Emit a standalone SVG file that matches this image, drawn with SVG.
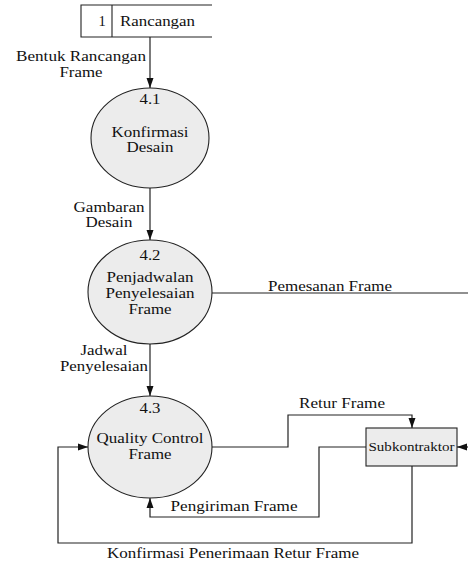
<svg xmlns="http://www.w3.org/2000/svg" width="468" height="561" viewBox="0 0 468 561">
<style>
text{font-family:"Liberation Serif","Times New Roman",serif;font-size:14.5px;fill:#111;}
.c{text-anchor:middle;}
.proc{fill:#ececec;stroke:#222;stroke-width:1.1;}
.flow{fill:none;stroke:#222;stroke-width:1.2;}
.store{fill:none;stroke:#222;stroke-width:1.1;}
.ent{fill:#ececec;stroke:#222;stroke-width:1.1;}
</style>
<defs>
<marker id="arr" markerUnits="userSpaceOnUse" markerWidth="10" markerHeight="10" viewBox="0 0 10 10" refX="10" refY="5" orient="auto">
<path d="M0,1.5 L10,5 L0,8.5 Z" fill="#111"/>
</marker>
</defs>
<rect width="468" height="561" fill="#ffffff"/>
<g id="connectors">
<line class="flow" x1="150" y1="37" x2="150" y2="88" marker-end="url(#arr)"/>
<line class="flow" x1="150" y1="188" x2="150" y2="240" marker-end="url(#arr)"/>
<line class="flow" x1="150" y1="344" x2="150" y2="396" marker-end="url(#arr)"/>
<line class="flow" x1="212" y1="293" x2="468" y2="293"/>
<polyline class="flow" points="212,447 288,447 288,415 412,415 412,428" marker-end="url(#arr)"/>
<polyline class="flow" points="366,447 319,447 319,517 150,517 150,498" marker-end="url(#arr)"/>
<polyline class="flow" points="412,466 412,543 58,543 58,447 88,447" marker-end="url(#arr)"/>
<line class="flow" x1="468" y1="447" x2="457" y2="447" marker-end="url(#arr)"/>
<text class="c" x="81" y="61" textLength="130" lengthAdjust="spacingAndGlyphs">Bentuk Rancangan</text>
<text class="c" x="81" y="77" textLength="43" lengthAdjust="spacingAndGlyphs">Frame</text>
<text class="c" x="109" y="212" textLength="71" lengthAdjust="spacingAndGlyphs">Gambaran</text>
<text class="c" x="109" y="227" textLength="47" lengthAdjust="spacingAndGlyphs">Desain</text>
<text class="c" x="104" y="355" textLength="47" lengthAdjust="spacingAndGlyphs">Jadwal</text>
<text class="c" x="104" y="371" textLength="88" lengthAdjust="spacingAndGlyphs">Penyelesaian</text>
<text class="c" x="330" y="291" textLength="124" lengthAdjust="spacingAndGlyphs">Pemesanan Frame</text>
<text class="c" x="342" y="408" textLength="86" lengthAdjust="spacingAndGlyphs">Retur Frame</text>
<text class="c" x="234" y="511" textLength="127" lengthAdjust="spacingAndGlyphs">Pengiriman Frame</text>
<text class="c" x="233" y="558" textLength="252" lengthAdjust="spacingAndGlyphs">Konfirmasi Penerimaan Retur Frame</text>
</g>
<g id="store-1">
<path class="store" d="M212,5 L81,5 L81,37 L212,37 M112,5 L112,37"/>
<text class="c" x="102" y="26">1</text>
<text x="120" y="26" textLength="75" lengthAdjust="spacingAndGlyphs">Rancangan</text>
</g>
<g id="proc-4-1">
<ellipse class="proc" cx="150" cy="138" rx="59" ry="50"/>
<text class="c" x="150" y="104" textLength="21" lengthAdjust="spacingAndGlyphs">4.1</text>
<text class="c" x="150" y="137" textLength="77" lengthAdjust="spacingAndGlyphs">Konfirmasi</text>
<text class="c" x="150" y="152" textLength="47" lengthAdjust="spacingAndGlyphs">Desain</text>
</g>
<g id="proc-4-2">
<ellipse class="proc" cx="150" cy="292" rx="62" ry="52"/>
<text class="c" x="150" y="260" textLength="21" lengthAdjust="spacingAndGlyphs">4.2</text>
<text class="c" x="150" y="282" textLength="87" lengthAdjust="spacingAndGlyphs">Penjadwalan</text>
<text class="c" x="150" y="298" textLength="89" lengthAdjust="spacingAndGlyphs">Penyelesaian</text>
<text class="c" x="150" y="314" textLength="43" lengthAdjust="spacingAndGlyphs">Frame</text>
</g>
<g id="proc-4-3">
<ellipse class="proc" cx="150" cy="447" rx="62" ry="51"/>
<text class="c" x="150" y="413" textLength="21" lengthAdjust="spacingAndGlyphs">4.3</text>
<text class="c" x="150" y="443" textLength="107" lengthAdjust="spacingAndGlyphs">Quality Control</text>
<text class="c" x="150" y="459" textLength="43" lengthAdjust="spacingAndGlyphs">Frame</text>
</g>
<g id="subkontraktor">
<rect class="ent" x="366" y="428" width="91" height="38"/>
<text class="c" x="411.5" y="451" style="font-size:13px" textLength="86" lengthAdjust="spacingAndGlyphs">Subkontraktor</text>
</g>
</svg>
